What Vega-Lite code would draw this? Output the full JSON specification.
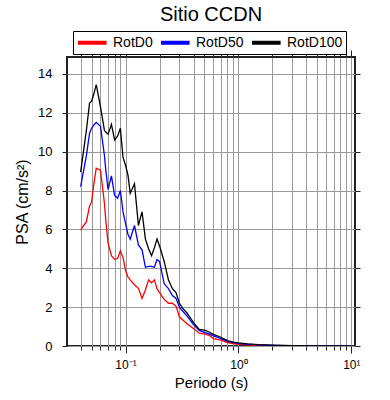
{
  "$schema": "https://vega.github.io/schema/vega-lite/v6.json",
  "width": 288,
  "height": 289,
  "autosize": {"type": "none"},
  "padding": {"left": 67, "top": 57, "right": 35, "bottom": 54},
  "background": "white",
  "title": {"text": "Sitio CCDN", "fontSize": 20, "font": "Liberation Sans", "fontWeight": "normal", "color": "black", "anchor": "middle", "offset": 9, "dy": 19, "baseline": "alphabetic"},
  "config": {
    "view": {"stroke": "#222", "strokeWidth": 2},
    "font": "Liberation Sans",
    "axis": {"labelFont": "Liberation Sans", "titleFont": "Liberation Sans", "labelColor": "black", "titleColor": "black", "titleFontWeight": "normal", "tickColor": "#222", "gridColor": "#999", "gridOpacity": 1, "gridWidth": 1, "domain": false}
  },
  "datasets": {
    "psa": [
      {"T":0.04,"s":"RotD0","v":5.97},{"T":0.045,"s":"RotD0","v":6.4},{"T":0.048,"s":"RotD0","v":7.2},{"T":0.05,"s":"RotD0","v":7.4},{"T":0.052,"s":"RotD0","v":8.2},{"T":0.055,"s":"RotD0","v":9.15},{"T":0.06,"s":"RotD0","v":9.05},{"T":0.065,"s":"RotD0","v":7.35},{"T":0.067,"s":"RotD0","v":6.4},{"T":0.07,"s":"RotD0","v":5.3},{"T":0.075,"s":"RotD0","v":4.65},{"T":0.08,"s":"RotD0","v":4.46},{"T":0.085,"s":"RotD0","v":4.5},{"T":0.09,"s":"RotD0","v":4.9},{"T":0.095,"s":"RotD0","v":4.55},{"T":0.1,"s":"RotD0","v":3.9},{"T":0.105,"s":"RotD0","v":3.55},{"T":0.11,"s":"RotD0","v":3.4},{"T":0.12,"s":"RotD0","v":3.15},{"T":0.13,"s":"RotD0","v":2.97},{"T":0.14,"s":"RotD0","v":2.45},{"T":0.15,"s":"RotD0","v":2.88},{"T":0.16,"s":"RotD0","v":3.4},{"T":0.17,"s":"RotD0","v":3.25},{"T":0.18,"s":"RotD0","v":3.4},{"T":0.19,"s":"RotD0","v":2.95},{"T":0.2,"s":"RotD0","v":2.75},{"T":0.22,"s":"RotD0","v":2.4},{"T":0.24,"s":"RotD0","v":2.2},{"T":0.26,"s":"RotD0","v":2.2},{"T":0.28,"s":"RotD0","v":2.05},{"T":0.3,"s":"RotD0","v":1.5},{"T":0.32,"s":"RotD0","v":1.35},{"T":0.35,"s":"RotD0","v":1.15},{"T":0.4,"s":"RotD0","v":0.9},{"T":0.45,"s":"RotD0","v":0.66},{"T":0.5,"s":"RotD0","v":0.62},{"T":0.55,"s":"RotD0","v":0.55},{"T":0.6,"s":"RotD0","v":0.38},{"T":0.7,"s":"RotD0","v":0.3},{"T":0.8,"s":"RotD0","v":0.18},{"T":0.9,"s":"RotD0","v":0.12},{"T":1.0,"s":"RotD0","v":0.09},{"T":1.2,"s":"RotD0","v":0.06},{"T":1.5,"s":"RotD0","v":0.04},{"T":2,"s":"RotD0","v":0.02},{"T":3,"s":"RotD0","v":0.01},{"T":5,"s":"RotD0","v":0.005},{"T":7.5,"s":"RotD0","v":0.003},{"T":10,"s":"RotD0","v":0.002},
      {"T":0.04,"s":"RotD50","v":8.2},{"T":0.045,"s":"RotD50","v":9.8},{"T":0.048,"s":"RotD50","v":10.95},{"T":0.05,"s":"RotD50","v":11.2},{"T":0.052,"s":"RotD50","v":11.35},{"T":0.055,"s":"RotD50","v":11.5},{"T":0.06,"s":"RotD50","v":11.3},{"T":0.065,"s":"RotD50","v":9.8},{"T":0.067,"s":"RotD50","v":9.0},{"T":0.07,"s":"RotD50","v":8.05},{"T":0.075,"s":"RotD50","v":8.75},{"T":0.08,"s":"RotD50","v":7.75},{"T":0.085,"s":"RotD50","v":7.6},{"T":0.09,"s":"RotD50","v":8.0},{"T":0.095,"s":"RotD50","v":6.9},{"T":0.1,"s":"RotD50","v":6.3},{"T":0.105,"s":"RotD50","v":5.75},{"T":0.11,"s":"RotD50","v":5.5},{"T":0.12,"s":"RotD50","v":6.2},{"T":0.13,"s":"RotD50","v":5.2},{"T":0.14,"s":"RotD50","v":4.95},{"T":0.15,"s":"RotD50","v":4.05},{"T":0.16,"s":"RotD50","v":4.1},{"T":0.17,"s":"RotD50","v":4.1},{"T":0.18,"s":"RotD50","v":4.05},{"T":0.19,"s":"RotD50","v":4.45},{"T":0.2,"s":"RotD50","v":4.35},{"T":0.22,"s":"RotD50","v":3.2},{"T":0.24,"s":"RotD50","v":2.95},{"T":0.26,"s":"RotD50","v":2.6},{"T":0.28,"s":"RotD50","v":2.45},{"T":0.3,"s":"RotD50","v":2.0},{"T":0.32,"s":"RotD50","v":1.8},{"T":0.35,"s":"RotD50","v":1.55},{"T":0.4,"s":"RotD50","v":1.1},{"T":0.45,"s":"RotD50","v":0.8},{"T":0.5,"s":"RotD50","v":0.7},{"T":0.55,"s":"RotD50","v":0.62},{"T":0.6,"s":"RotD50","v":0.52},{"T":0.7,"s":"RotD50","v":0.38},{"T":0.8,"s":"RotD50","v":0.24},{"T":0.9,"s":"RotD50","v":0.17},{"T":1.0,"s":"RotD50","v":0.13},{"T":1.2,"s":"RotD50","v":0.09},{"T":1.5,"s":"RotD50","v":0.055},{"T":2,"s":"RotD50","v":0.03},{"T":3,"s":"RotD50","v":0.015},{"T":5,"s":"RotD50","v":0.008},{"T":7.5,"s":"RotD50","v":0.005},{"T":10,"s":"RotD50","v":0.003},
      {"T":0.04,"s":"RotD100","v":8.95},{"T":0.045,"s":"RotD100","v":11.1},{"T":0.048,"s":"RotD100","v":12.5},{"T":0.05,"s":"RotD100","v":12.6},{"T":0.052,"s":"RotD100","v":12.9},{"T":0.055,"s":"RotD100","v":13.45},{"T":0.06,"s":"RotD100","v":12.3},{"T":0.065,"s":"RotD100","v":11.1},{"T":0.067,"s":"RotD100","v":11.0},{"T":0.07,"s":"RotD100","v":10.9},{"T":0.075,"s":"RotD100","v":11.4},{"T":0.08,"s":"RotD100","v":10.6},{"T":0.085,"s":"RotD100","v":10.8},{"T":0.09,"s":"RotD100","v":11.2},{"T":0.095,"s":"RotD100","v":9.7},{"T":0.1,"s":"RotD100","v":9.3},{"T":0.105,"s":"RotD100","v":8.8},{"T":0.11,"s":"RotD100","v":7.85},{"T":0.12,"s":"RotD100","v":8.35},{"T":0.13,"s":"RotD100","v":6.2},{"T":0.14,"s":"RotD100","v":6.9},{"T":0.15,"s":"RotD100","v":5.5},{"T":0.16,"s":"RotD100","v":5.0},{"T":0.17,"s":"RotD100","v":4.65},{"T":0.18,"s":"RotD100","v":5.05},{"T":0.19,"s":"RotD100","v":5.5},{"T":0.2,"s":"RotD100","v":5.15},{"T":0.22,"s":"RotD100","v":4.35},{"T":0.24,"s":"RotD100","v":3.4},{"T":0.26,"s":"RotD100","v":2.95},{"T":0.28,"s":"RotD100","v":2.75},{"T":0.3,"s":"RotD100","v":2.2},{"T":0.32,"s":"RotD100","v":1.95},{"T":0.35,"s":"RotD100","v":1.7},{"T":0.4,"s":"RotD100","v":1.2},{"T":0.45,"s":"RotD100","v":0.85},{"T":0.5,"s":"RotD100","v":0.82},{"T":0.55,"s":"RotD100","v":0.72},{"T":0.6,"s":"RotD100","v":0.6},{"T":0.7,"s":"RotD100","v":0.45},{"T":0.8,"s":"RotD100","v":0.28},{"T":0.9,"s":"RotD100","v":0.2},{"T":1.0,"s":"RotD100","v":0.16},{"T":1.2,"s":"RotD100","v":0.11},{"T":1.5,"s":"RotD100","v":0.07},{"T":2,"s":"RotD100","v":0.04},{"T":3,"s":"RotD100","v":0.02},{"T":5,"s":"RotD100","v":0.01},{"T":7.5,"s":"RotD100","v":0.006},{"T":10,"s":"RotD100","v":0.004}
    ]
  },
  "data": {"name": "psa"},
  "layer": [
    {
      "mark": {"type": "line", "strokeWidth": 1.3, "clip": true},
      "encoding": {
        "x": {"field": "T", "type": "quantitative",
          "scale": {"type": "log", "domain": [0.0303, 10.78], "nice": false},
          "axis": {"orient": "bottom", "title": "Periodo (s)", "titleFontSize": 15, "titlePadding": 5,
            "values": [0.04,0.05,0.06,0.07,0.08,0.09,0.1,0.2,0.3,0.4,0.5,0.6,0.7,0.8,0.9,1,2,3,4,5,6,7,8,9,10],
            "labelExpr": "datum.value == 0.1 ? '10⁻¹' : datum.value == 1 ? '10⁰' : datum.value == 10 ? '10¹' : ''",
            "labelFontSize": 12, "labelPadding": 6, "labelFlush": false, "labelOverlap": false,
            "grid": true,
            "tickSize": {"condition": {"test": "datum.value == 0.1 || datum.value == 1 || datum.value == 10", "value": 7}, "value": 4}}},
        "y": {"field": "v", "type": "quantitative",
          "scale": {"domain": [0, 14.87], "nice": false},
          "axis": {"orient": "left", "title": "PSA (cm/s²)", "titleFontSize": 16, "titlePadding": 7,
            "values": [0,2,4,6,8,10,12,14], "labelFontSize": 13, "labelPadding": 10, "tickSize": 5, "grid": true}},
        "color": {"field": "s", "type": "nominal",
          "scale": {"domain": ["RotD0", "RotD50", "RotD100"], "range": ["#ff0000", "#0000ff", "#000000"]},
          "legend": {"title": null, "orient": "none", "legendX": 6, "legendY": -26, "direction": "horizontal", "columns": 3, "gridAlign": "each",
            "symbolType": "M-1,0H3.4", "symbolSize": 169, "symbolStrokeWidth": 4, "labelFontSize": 14, "labelFont": "Liberation Sans", "labelColor": "black",
            "labelOffset": 20, "columnPadding": 0, "padding": 3, "strokeColor": "black", "fillColor": "white"}}
      }
    },
    {
      "mark": {"type": "line", "opacity": 0},
      "encoding": {
        "x": {"field": "T", "type": "quantitative",
          "axis": {"orient": "top", "title": null, "labels": false, "grid": false,
            "values": [0.04,0.05,0.06,0.07,0.08,0.09,0.1,0.2,0.3,0.4,0.5,0.6,0.7,0.8,0.9,1,2,3,4,5,6,7,8,9,10],
            "tickSize": {"condition": {"test": "datum.value == 0.1 || datum.value == 1 || datum.value == 10", "value": 7}, "value": 4}}},
        "y": {"field": "v", "type": "quantitative",
          "axis": {"orient": "right", "title": null, "labels": false, "grid": false, "values": [0,2,4,6,8,10,12,14], "tickSize": 5}},
        "detail": {"field": "s", "type": "nominal"}
      }
    }
  ],
  "resolve": {"axis": {"x": "independent", "y": "independent"}}
}
